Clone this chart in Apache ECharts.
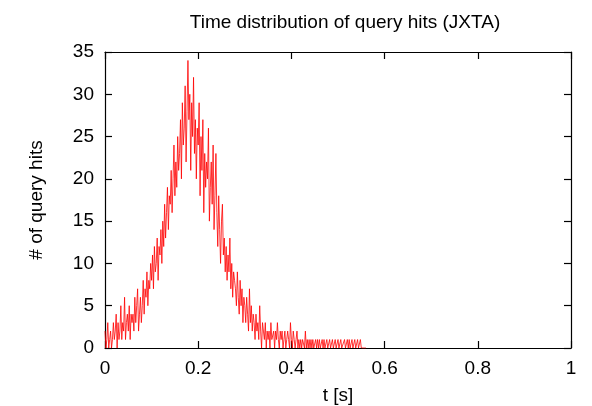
<!DOCTYPE html>
<html>
<head>
<meta charset="utf-8">
<script src="https://cdn.jsdelivr.net/npm/echarts@6/dist/echarts.min.js"></script>
<style>
html,body{margin:0;padding:0;background:#fff;}
#chart{width:592px;height:406px;}
</style>
</head>
<body>
<div id="chart"></div>
<script>
// Bin width of the histogram (seconds)
const binWidth = 0.002;
// Number of query hits per bin, starting at t = 0
const hits = [
  2,0,1,3,0,1,2,0,1,3,
  1,2,4,0,3,1,2,5,1,3,
  2,6,1,3,4,2,5,1,4,3,
  4,2,6,3,5,7,2,4,6,3,
  5,8,4,7,6,9,5,8,7,10,
  8,11,7,12,9,10,13,8,12,11,
  14,10,15,12,17,13,16,19,14,18,
  17,21,16,20,24,18,22,19,25,21,
  23,27,20,29,24,26,31,22,28,34,
  27,30,21,29,25,32,23,27,20,26,
  24,29,18,25,21,27,16,23,19,22,
  20,26,15,19,22,17,24,14,18,23,
  16,12,18,14,10,15,17,11,13,9,
  12,8,11,9,13,7,10,6,9,8,
  7,5,9,6,4,8,5,7,3,6,
  5,3,6,4,2,7,3,5,2,4,
  3,1,4,2,3,1,5,2,0,3,
  2,1,3,0,2,1,2,0,3,1,
  1,2,0,2,1,3,1,0,2,1,
  2,0,1,2,0,1,2,1,0,3,
  1,0,2,1,0,1,2,0,1,0,
  1,0,1,1,0,2,0,1,0,1,
  0,1,0,1,0,0,1,0,1,0,
  1,0,0,1,0,1,0,0,1,0,
  0,1,0,0,1,0,0,1,0,0,
  1,0,0,1,0,0,0,1,0,0,
  1,0,1,0,0,1,0,0,1,0,
  0,1,0,0,1,0,0,0,0,0,
  0
];
const xTicks = [0, 0.2, 0.4, 0.6, 0.8, 1];
const yTicks = [0, 5, 10, 15, 20, 25, 30, 35];
const titleText = 'Time distribution of query hits (JXTA)';
const xName = 't [s]';
const yName = '# of query hits';

const data = hits.map((v, i) => [+(i * binWidth).toFixed(4), v]);
const font = 'Liberation Sans, Arial, sans-serif';
const fs = 19;

function axisCommon() {
  return {
    type: 'value',
    axisLine: { show: true, onZero: false, lineStyle: { color: '#000', width: 1.2 } },
    axisTick: { show: true, inside: true, length: 7, lineStyle: { color: '#000', width: 1.2 } },
    splitLine: { show: false }
  };
}
function xAx(extra) {
  return Object.assign(axisCommon(), { min: xTicks[0], max: xTicks[xTicks.length - 1], interval: 0.2 }, extra);
}
function yAx(extra) {
  return Object.assign(axisCommon(), { min: yTicks[0], max: yTicks[yTicks.length - 1], interval: 5 }, extra);
}

const chart = echarts.init(document.getElementById('chart'), null, { renderer: 'canvas' });
chart.setOption({
  animation: false,
  backgroundColor: '#fff',
  title: {
    text: titleText, left: 340, top: 8, textAlign: 'center',
    textStyle: { fontFamily: font, fontSize: fs, fontWeight: 'normal', color: '#000' }
  },
  grid: { left: 105, right: 21, top: 52, bottom: 58, containLabel: false, outerBoundsMode: 'none' },
  xAxis: [
    xAx({
      position: 'bottom',
      name: xName, nameLocation: 'middle', nameGap: 38,
      nameTextStyle: { fontFamily: font, fontSize: fs, color: '#000' },
      axisLabel: { show: true, margin: 11, fontFamily: font, fontSize: fs, color: '#000' }
    }),
    xAx({ position: 'top', axisLabel: { show: false } })
  ],
  yAxis: [
    yAx({
      position: 'left',
      name: yName, nameLocation: 'middle', nameGap: 59, nameRotate: 90,
      nameTextStyle: { fontFamily: font, fontSize: fs, color: '#000' },
      axisLabel: { show: true, margin: 11, fontFamily: font, fontSize: fs, color: '#000' }
    }),
    yAx({ position: 'right', axisLabel: { show: false } })
  ],
  series: [{
    type: 'line',
    data: data,
    xAxisIndex: 0, yAxisIndex: 0,
    showSymbol: false,
    symbol: 'none',
    lineStyle: { color: '#ff0000', width: 0.8 },
    clip: true
  }]
});
</script>
</body>
</html>
